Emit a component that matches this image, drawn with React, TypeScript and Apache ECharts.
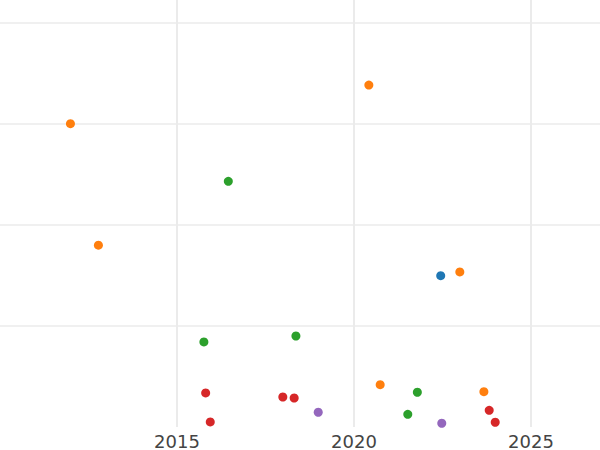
import React, { useEffect, useRef } from "react";
import * as echarts from "echarts";

const xTicksInterval = 5;

const blueX = [2022.45];
const blueY = [1.498];

const orangeX = [2011.99, 2012.78, 2020.42, 2022.99, 2020.74, 2023.67];
const orangeY = [3.003, 1.8, 3.386, 1.535, 0.419, 0.35];

const greenX = [2016.45, 2015.76, 2018.36, 2021.79, 2021.52];
const greenY = [2.433, 0.842, 0.901, 0.344, 0.126];

const redX = [2015.81, 2015.94, 2017.99, 2018.31, 2023.82, 2023.99];
const redY = [0.337, 0.05, 0.297, 0.287, 0.165, 0.047];

const purpleX = [2018.99, 2022.48];
const purpleY = [0.146, 0.037];

const pairs = (xs: number[], ys: number[]) => xs.map((x, i) => [x, ys[i]]);

export default function App() {
  const ref = useRef<HTMLDivElement>(null);
  useEffect(() => {
    if (!ref.current) return;
    const chart = echarts.init(ref.current, undefined, { renderer: "svg" });
    const mk = (name: string, color: string, xs: number[], ys: number[]) => ({
      name,
      type: "scatter",
      data: pairs(xs, ys),
      symbolSize: 9,
      itemStyle: { color, opacity: 1 },
      clip: true,
    });
    chart.setOption({
      animation: false,
      backgroundColor: "#ffffff",
      grid: { left: 0, right: 0, top: 0, bottom: 23, containLabel: false },
      xAxis: {
        type: "value",
        min: 2010,
        max: 2026.95,
        interval: xTicksInterval,
        axisLine: { show: false },
        axisTick: { show: false },
        axisLabel: {
          show: true,
          showMinLabel: false,
          showMaxLabel: false,
          color: "#444444",
          fontFamily: "DejaVu Sans",
          fontSize: 18,
          margin: 5,
          formatter: (v: number) => String(Math.round(v)),
        },
        splitLine: {
          show: true,
          showMinLine: false,
          showMaxLine: false,
          lineStyle: { color: "#ebebeb", width: 2 },
        },
      },
      yAxis: {
        type: "value",
        min: 0,
        max: 4.228,
        interval: 1,
        axisLine: { show: false },
        axisTick: { show: false },
        axisLabel: { show: false },
        splitLine: {
          show: true,
          showMinLine: false,
          showMaxLine: false,
          lineStyle: { color: "#ebebeb", width: 1.5 },
        },
      },
      series: [
        mk("blue", "#1f77b4", blueX, blueY),
        mk("orange", "#ff7f0e", orangeX, orangeY),
        mk("green", "#2ca02c", greenX, greenY),
        mk("red", "#d62728", redX, redY),
        mk("purple", "#9467bd", purpleX, purpleY),
      ],
    });
    return () => chart.dispose();
  }, []);
  return (
    <div
      ref={ref}
      style={{ position: "fixed", left: 0, top: 0, width: 600, height: 450 }}
    />
  );
}
